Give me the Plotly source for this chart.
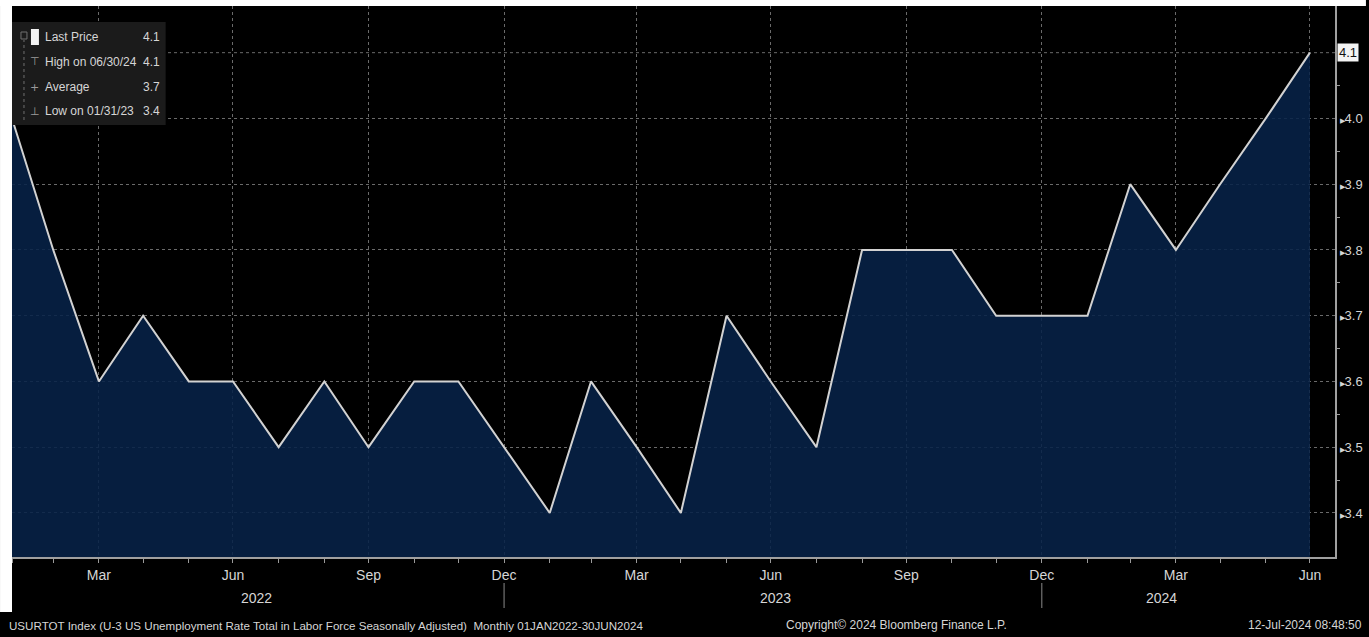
import pandas as pd
import plotly.graph_objects as go

# ---------------- data ----------------
dates = pd.date_range("2022-01-31", periods=30, freq="ME")
unemployment = [4.0, 3.8, 3.6, 3.7, 3.6, 3.6, 3.5, 3.6, 3.5, 3.6, 3.6, 3.5,
                3.4, 3.6, 3.5, 3.4, 3.7, 3.6, 3.5, 3.8, 3.8, 3.8, 3.7, 3.7,
                3.7, 3.9, 3.8, 3.9, 4.0, 4.1]
quarter_labels = ["Mar", "Jun", "Sep", "Dec"] * 2 + ["Mar", "Jun"]
quarter_dates = [d for d in dates if d.month in (3, 6, 9, 12)]
year_labels = ["2022", "2023", "2024"]
year_label_dates = ["2022-07-16", "2023-07-03", "2024-03-21"]
year_sep_dates = ["2022-12-31", "2023-12-31"]
y_ticks = [3.4, 3.5, 3.6, 3.7, 3.8, 3.9, 4.0, 4.1]
legend_rows = [("Last Price", "4.1"), ("High on 06/30/24", "4.1"),
               ("Average", "3.7"), ("Low on 01/31/23", "3.4")]
footer_left = "USURTOT Index (U-3 US Unemployment Rate Total in Labor Force Seasonally Adjusted)  Monthly 01JAN2022-30JUN2024"
footer_mid = "Copyright\u00a9 2024 Bloomberg Finance L.P."
footer_right = "12-Jul-2024 08:48:50"

# ---------------- geometry helpers ----------------
W, H = 1369, 637
L, R, T, B = 12, 1338, 6, 557
def px(x):
    return (x - L) / (R - L)
def py(y):
    return (B - y) / (B - T)

FONT = "Liberation Sans, Arial, sans-serif"
TXT = "#d6d6d6"

fig = go.Figure()
fig.add_trace(go.Scatter(
    x=dates, y=unemployment, mode="lines",
    line=dict(color="#d2d2d2", width=2),
    fill="tozeroy", fillcolor="rgba(7,34,72,0.88)",
    hoverinfo="x+y", showlegend=False))

shapes = []
annotations = []

# white margins of the screenshot
shapes.append(dict(type="rect", xref="paper", yref="paper", x0=px(0), x1=px(L),
                   y0=py(612), y1=py(0), fillcolor="white", line=dict(width=0), layer="above"))
shapes.append(dict(type="rect", xref="paper", yref="paper", x0=px(0), x1=px(W),
                   y0=py(T), y1=py(0), fillcolor="white", line=dict(width=0), layer="above"))

# legend box
shapes.append(dict(type="rect", xref="paper", yref="paper", x0=px(12), x1=px(166),
                   y0=py(125), y1=py(22), fillcolor="#1b1b1b", line=dict(width=0), layer="above"))
shapes.append(dict(type="rect", xref="paper", yref="paper", x0=px(31), x1=px(39),
                   y0=py(45), y1=py(29), fillcolor="#f2f2f2", line=dict(width=0), layer="above"))
shapes.append(dict(type="line", xref="paper", yref="paper", x0=px(24), x1=px(24),
                   y0=py(120), y1=py(40), line=dict(color="#707070", width=1, dash="dot"), layer="above"))
shapes.append(dict(type="rect", xref="paper", yref="paper", x0=px(21), x1=px(27),
                   y0=py(39), y1=py(32), fillcolor="#1b1b1b", line=dict(color="#707070", width=1), layer="above"))
icons = [None, "\u22a4", "+", "\u22a5"]
row_y = [37, 62, 87, 111]
for (lab, val), ic, yy in zip(legend_rows, icons, row_y):
    annotations.append(dict(xref="paper", yref="paper", x=px(43), y=py(yy), text=lab,
                            showarrow=False, xanchor="left", yanchor="middle",
                            font=dict(family=FONT, size=12, color=TXT)))
    annotations.append(dict(xref="paper", yref="paper", x=px(162), y=py(yy), text=val,
                            showarrow=False, xanchor="right", yanchor="middle",
                            font=dict(family=FONT, size=12, color=TXT)))
    if ic:
        annotations.append(dict(xref="paper", yref="paper", x=px(35), y=py(yy), text=ic,
                                showarrow=False, xanchor="center", yanchor="middle",
                                font=dict(family="DejaVu Sans", size=11, color="#9a9a9a")))

# year separators and labels
for d in year_sep_dates:
    shapes.append(dict(type="line", xref="x", yref="paper", x0=d, x1=d,
                       y0=py(583), y1=py(608), line=dict(color="#8a8a8a", width=1)))
for lab, d in zip(year_labels, year_label_dates):
    annotations.append(dict(xref="x", yref="paper", x=d, y=py(598), text=lab,
                            showarrow=False, xanchor="center", yanchor="middle",
                            font=dict(family=FONT, size=14, color=TXT)))

# last price tag
annotations.append(dict(xref="paper", yref="y", x=px(1340), y=unemployment[-1], text=str(unemployment[-1]),
                        showarrow=False, xanchor="left", yanchor="middle",
                        bgcolor="#f4f4f4", borderpad=1,
                        font=dict(family=FONT, size=13, color="#111111")))

# footer
annotations.append(dict(xref="paper", yref="paper", x=px(7), y=py(625), text=footer_left,
                        showarrow=False, xanchor="left", yanchor="middle",
                        font=dict(family=FONT, size=11.6, color=TXT)))
annotations.append(dict(xref="paper", yref="paper", x=px(899), y=py(625), text=footer_mid,
                        showarrow=False, xanchor="center", yanchor="middle",
                        font=dict(family=FONT, size=12, color=TXT)))
annotations.append(dict(xref="paper", yref="paper", x=px(1367), y=py(625), text=footer_right,
                        showarrow=False, xanchor="right", yanchor="middle",
                        font=dict(family=FONT, size=12, color=TXT)))

fig.update_layout(
    width=W, height=H, autosize=False,
    margin=dict(l=L, r=W - R, t=T, b=H - B, pad=0),
    paper_bgcolor="black", plot_bgcolor="black",
    showlegend=False,
    shapes=shapes, annotations=annotations,
    xaxis=dict(
        type="date", range=["2022-01-31", "2024-07-17"],
        tickmode="array", tickvals=quarter_dates, ticktext=quarter_labels,
        ticks="outside", ticklen=4, tickcolor="#9a9a9a", tickwidth=1,
        tickfont=dict(family=FONT, size=14, color=TXT),
        showgrid=True, gridcolor="#6a6a6a", griddash="dot", gridwidth=1,
        showline=True, linecolor="#a0a0a0", linewidth=2,
        minor=dict(tickmode="array", tickvals=list(dates), ticks="outside",
                   ticklen=4, tickcolor="#9a9a9a", showgrid=False),
        zeroline=False, fixedrange=True,
    ),
    yaxis=dict(
        side="right", range=[3.333, 4.171],
        tickmode="array", tickvals=y_ticks[:-1],
        ticktext=["<span style='font-size:7px'>\u25b6</span>" + f"{v:.1f}" for v in y_ticks[:-1]],
        ticks="", ticklabelstandoff=0,
        tickfont=dict(family=FONT, size=13, color=TXT),
        showgrid=True, gridcolor="#6a6a6a", griddash="dot", gridwidth=1,
        showline=True, linecolor="#a0a0a0", linewidth=2,
        minor=dict(tickmode="array", tickvals=[v + 0.05 for v in y_ticks[:-1]],
                   ticks="outside", ticklen=3, tickcolor="#9a9a9a", showgrid=False),
        zeroline=False, fixedrange=True,
    ),
)
fig.add_hline(y=y_ticks[-1], line=dict(color="#6a6a6a", width=1, dash="dot"), layer="below")

fig.write_html("out.html", config={"displayModeBar": False},
               post_script="document.body.style.margin='0';document.body.style.overflow='hidden';")
